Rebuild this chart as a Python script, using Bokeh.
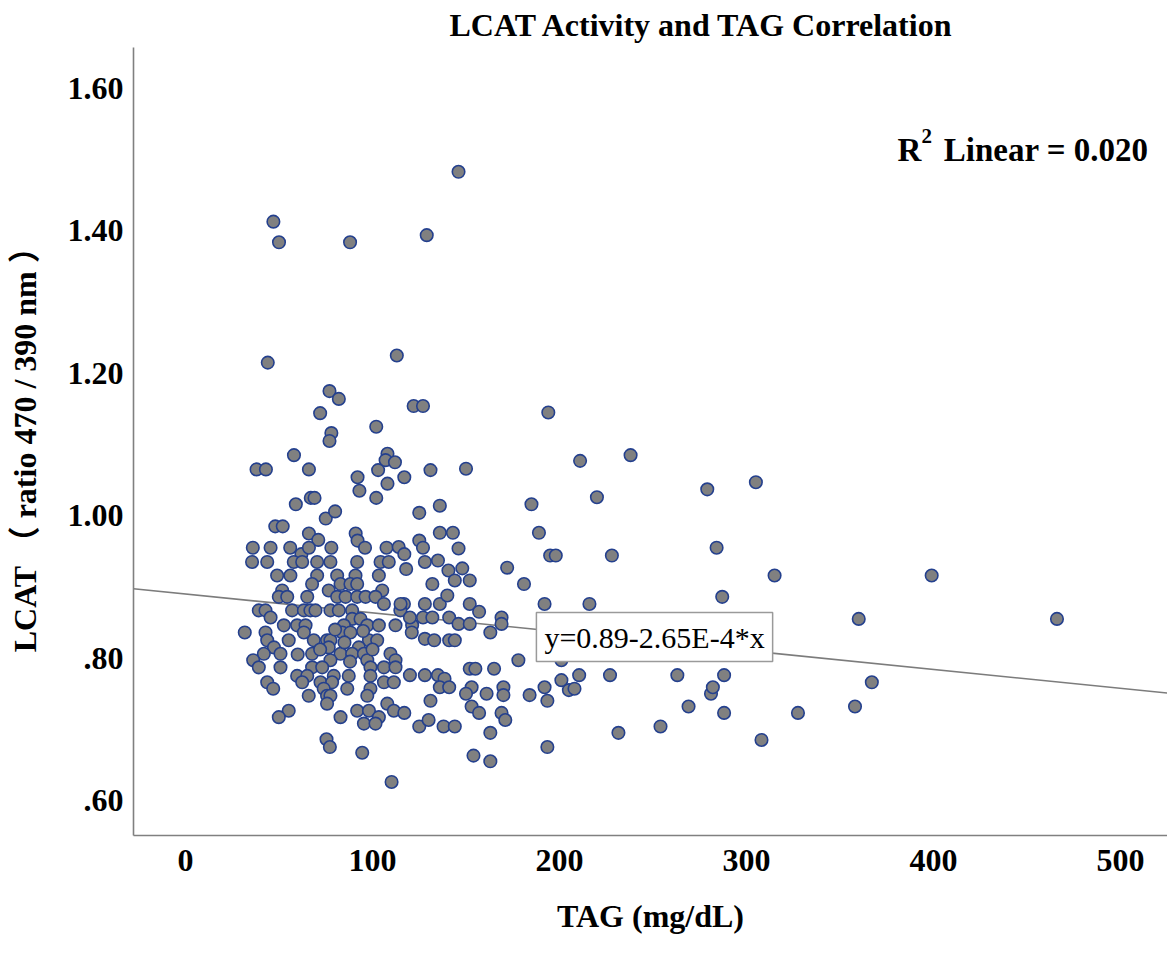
from bokeh.plotting import figure
from bokeh.models import Range1d, FixedTicker, Label
from bokeh.embed import file_html
from bokeh.resources import INLINE

# TAG (mg/dL) and LCAT activity (fluorescence ratio 470/390 nm) per subject
tag = [
    146, 129, 47, 50, 88, 44, 113,
    77, 82, 72, 102, 122, 127, 78, 77, 58, 38, 43, 66, 92, 93, 102, 108, 107, 112,
    103, 108, 117, 131, 59, 67, 69, 75, 80, 48, 52, 125, 66, 71, 91, 92, 96, 125, 127,
    36, 45.5, 56, 62, 66, 78, 107.5, 114, 117,
    35.6, 43.7, 57.9, 62.4, 70.4, 77.5, 91.8, 104.3, 108.7,
    49.0, 56.1, 70.4, 81.1, 90.9, 103.4,
    67.7, 82.9, 88.2, 91.8,
    51.7, 76.6, 105.2,
    49.9, 54.4, 65.1, 81.1, 85.6, 91.8, 96.3, 101.6,
    106.1, 116.8,
    39.2, 42.8, 57.0, 63.3, 66.8, 69.5, 77.5, 82.0, 89.1, 114.9,
    45.5, 89.1, 93.6,
    52.6, 59.7, 64.2, 84.7, 97.2, 103.4, 112.3, 121.2,
    31.7, 42.8, 63.3, 83.8, 88.2,
    43.7, 55.2, 68.6, 75.7, 77.5, 98.1, 102.5,
    47.3, 76.6, 92.7,
    41.9, 50.8, 67.7, 82.9, 89.1, 95.4, 109.6,
    36.2, 77.5, 97.2, 112.3,
    39.2, 50.8, 67.7, 73.1, 98.9, 106.1, 112.3,
    59.7, 65.1, 79.3, 87.3, 98.9,
    43.7, 62.4, 72.2, 78.4, 106.1, 111.4,
    46.9, 73.9, 86.5, 98.9,
    65.9, 75.7, 77.5, 97.2,
    75.7, 107.9,
    55.2, 91.8, 98.1, 111.4,
    49.9, 82.9, 103.4,
    95.4, 101.6,
    75.4, 77.2, 94.5, 110.2,
    211, 238, 220, 194, 185, 189, 195, 198, 228, 279, 305, 284, 315, 399, 150,
    136, 136, 143, 146, 148, 172, 140.6, 135, 144, 152, 118, 128,
    132, 181, 115, 128, 136, 140, 152, 157, 192, 216, 287, 360, 466,
    120, 127, 132, 141, 146, 152, 169, 169, 163, 121, 128, 133, 141, 144,
    178, 201, 227, 263, 288, 367, 152, 155, 165, 120, 128, 135, 138.5, 136, 141,
    153, 150, 161, 170, 170, 184, 192, 193.5, 201, 205, 208, 210.5, 131, 153, 157,
    169, 171, 117, 125, 130, 138, 144, 163, 193.5, 154, 163, 231.5, 254, 269, 281,
    282, 288, 308, 327.5, 358,
    72, 85, 95, 60, 100, 88, 80,
]
lcat = [
    1.483, 1.394, 1.413, 1.384, 1.384, 1.215, 1.225,
    1.175, 1.164, 1.144, 1.125, 1.154, 1.154, 1.116, 1.105, 1.085, 1.065, 1.065, 1.065,
    1.054, 1.035, 1.025, 1.087, 1.078, 1.075, 1.064, 1.045, 1.054, 1.064, 1.016, 1.025,
    1.025, 0.996, 1.006, 0.985, 0.985, 1.004, 0.975, 0.966, 0.975, 0.965, 0.955, 0.965,
    0.955,
    0.955, 0.955, 0.955, 0.946, 0.955, 0.955, 0.955, 0.956, 0.946,
    0.935, 0.935, 0.935, 0.935, 0.935, 0.935, 0.935, 0.935, 0.935,
    0.916, 0.916, 0.916, 0.916, 0.916, 0.916,
    0.904, 0.904, 0.904, 0.904,
    0.895, 0.895, 0.895,
    0.886, 0.886, 0.886, 0.886, 0.886, 0.886, 0.886, 0.886,
    0.876, 0.876,
    0.867, 0.867, 0.867, 0.867, 0.867, 0.867, 0.867, 0.867, 0.867, 0.867,
    0.857, 0.855, 0.855,
    0.846, 0.846, 0.846, 0.846, 0.846, 0.846, 0.846, 0.846,
    0.836, 0.836, 0.836, 0.836, 0.836,
    0.825, 0.825, 0.825, 0.825, 0.825, 0.825, 0.825,
    0.815, 0.815, 0.815,
    0.806, 0.806, 0.806, 0.806, 0.806, 0.806, 0.806,
    0.797, 0.797, 0.797, 0.797,
    0.787, 0.787, 0.787, 0.787, 0.787, 0.787, 0.787,
    0.775, 0.775, 0.775, 0.775, 0.775,
    0.766, 0.766, 0.766, 0.766, 0.766, 0.766,
    0.757, 0.757, 0.757, 0.757,
    0.747, 0.747, 0.747, 0.747,
    0.736, 0.736,
    0.726, 0.726, 0.726, 0.726,
    0.717, 0.717, 0.717,
    0.708, 0.708,
    0.686, 0.675, 0.667, 0.626,
    1.077, 1.085, 1.026, 1.145, 1.016, 0.976, 0.944, 0.944, 0.944, 1.037, 1.047, 0.955,
    0.916, 0.916, 1.066,
    1.014, 0.976, 0.976, 0.954, 0.926, 0.927, 0.923, 0.937, 0.909, 0.909, 0.925, 0.935,
    0.904, 0.904, 0.876, 0.876, 0.876, 0.888, 0.876, 0.865, 0.876, 0.876, 0.886, 0.855,
    0.855,
    0.857, 0.857, 0.857, 0.857, 0.848, 0.848, 0.857, 0.848, 0.836, 0.836, 0.827, 0.825,
    0.825, 0.825,
    0.797, 0.797, 0.776, 0.776, 0.776, 0.766, 0.785, 0.785, 0.785, 0.776, 0.776, 0.776,
    0.771, 0.759, 0.759,
    0.759, 0.750, 0.750, 0.759, 0.748, 0.748, 0.759, 0.740, 0.769, 0.755, 0.757, 0.776,
    0.740, 0.732, 0.723,
    0.723, 0.713, 0.723, 0.704, 0.713, 0.704, 0.704, 0.695, 0.675, 0.663, 0.655, 0.695,
    0.704, 0.732, 0.750,
    0.759, 0.723, 0.685, 0.723, 0.732,
    0.812, 0.822, 0.838, 0.805, 0.812, 0.795, 0.840,
]

# Linear fit reported for the sample
intercept = 0.89
slope = -2.65e-4
r_squared = 0.020

x_ticks = [0, 100, 200, 300, 400, 500]
y_ticks = [0.6, 0.8, 1.0, 1.2, 1.4, 1.6]
y_tick_labels = [".60", ".80", "1.00", "1.20", "1.40", "1.60"]

X_MIN, X_MAX = -27.8, 525.1
Y_MIN, Y_MAX = 0.5508, 1.6576

SERIF = "Liberation Serif"

p = figure(
    width=1167, height=955,
    output_backend="svg", toolbar_location=None,
    x_range=Range1d(X_MIN, X_MAX), y_range=Range1d(Y_MIN, Y_MAX),
    min_border_left=133, min_border_right=0,
    min_border_top=0, min_border_bottom=120,
    title="LCAT Activity and TAG Correlation",
)
p.outline_line_color = None
p.background_fill_color = "white"
p.border_fill_color = "white"
p.grid.visible = False

p.title.text_font = SERIF
p.title.text_font_size = "32px"
p.title.text_font_style = "bold"
p.title.text_color = "black"
p.title.align = "left"
p.title.offset = 316
p.title.standoff = 9

for ax in (p.xaxis[0], p.yaxis[0]):
    ax.axis_line_color = "#808080"
    ax.axis_line_width = 1.6
    ax.major_tick_line_color = None
    ax.minor_tick_line_color = None
    ax.major_tick_out = 0
    ax.major_tick_in = 0
    ax.minor_tick_out = 0
    ax.minor_tick_in = 0
    ax.major_label_text_font = SERIF
    ax.major_label_text_font_size = "32px"
    ax.major_label_text_font_style = "bold"
    ax.major_label_text_color = "black"
    ax.axis_label_text_font = SERIF
    ax.axis_label_text_font_size = "32px"
    ax.axis_label_text_font_style = "bold"
    ax.axis_label_text_color = "black"

p.xaxis.ticker = FixedTicker(ticks=x_ticks)
p.xaxis.axis_label = "TAG (mg/dL)"
p.xaxis.major_label_standoff = 14
p.xaxis.axis_label_standoff = 24

p.yaxis.ticker = FixedTicker(ticks=y_ticks)
p.yaxis.major_label_overrides = {t: s for t, s in zip(y_ticks, y_tick_labels)}
p.yaxis.axis_label = "LCAT （ ratio 470 / 390 nm ）"
p.yaxis.axis_label_text_font = "Liberation Serif, Noto Sans CJK SC"
p.yaxis.major_label_standoff = 10
p.yaxis.axis_label_standoff = 22

# Fit line across the full x range
fit_x = [X_MIN, X_MAX]
fit_y = [intercept + slope * v for v in fit_x]
p.line(fit_x, fit_y, line_color="#7c7c7c", line_width=1.6)

p.scatter(tag, lcat, size=12.5, fill_color="#808080", line_color="#24408e",
          line_width=1.6, marker="circle")

eq_text = f"y={intercept:.2f}-{abs(slope) * 1e4:.2f}E-4*x"
p.add_layout(Label(
    x=250.8, y=0.8296, text=eq_text,
    text_align="center", text_baseline="middle",
    text_font=SERIF, text_font_size="30px", text_color="black",
    background_fill_color="white", border_line_color="#9a9a9a",
    border_line_width=1.5, padding=8,
))

# R² annotation, superscript drawn as a separate smaller label
r2_style = dict(text_font=SERIF, text_font_style="bold", text_color="black",
                text_baseline="alphabetic", text_align="left")
p.add_layout(Label(x=380.7, y=1.513, text="R", text_font_size="33px", **r2_style))
p.add_layout(Label(x=393.6, y=1.533, text="2", text_font_size="21px", **r2_style))
p.add_layout(Label(x=405.5, y=1.513, text=f"Linear = {r_squared:.3f}",
                   text_font_size="33px", **r2_style))

open("out.html", "w").write(file_html(p, INLINE))
